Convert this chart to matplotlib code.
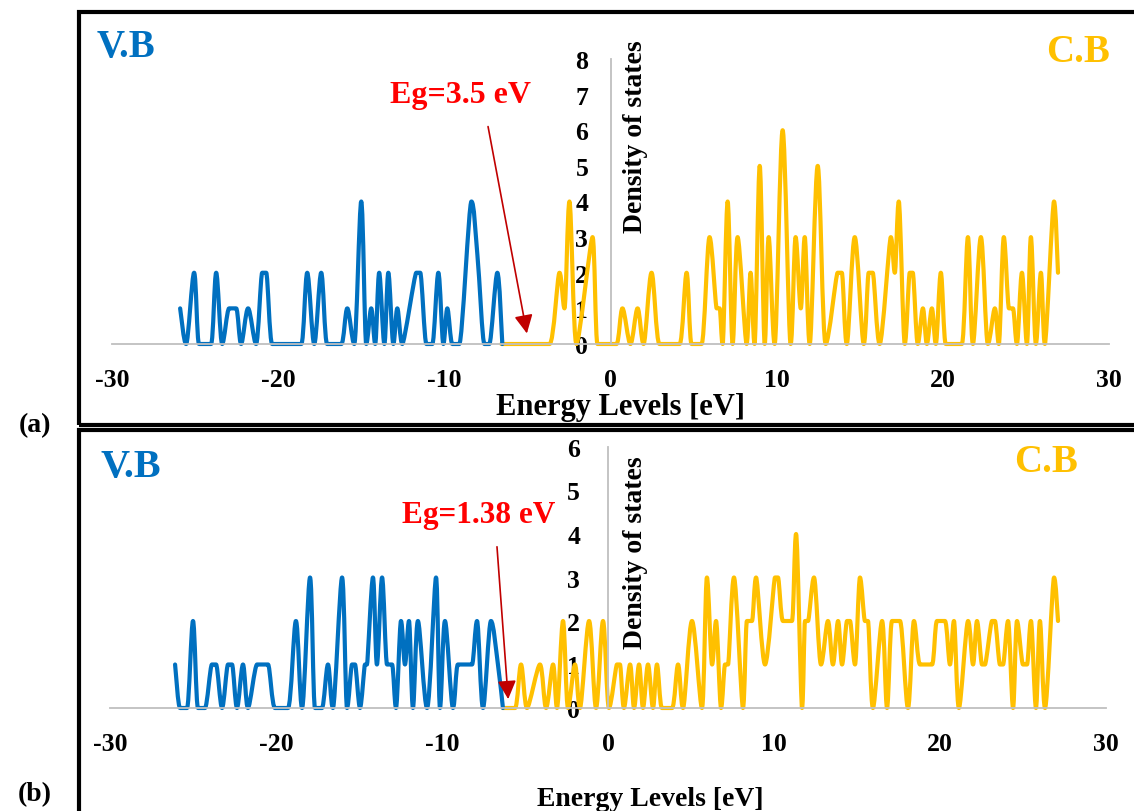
import numpy as np
import matplotlib
matplotlib.use('Agg')
import matplotlib.pyplot as plt
from matplotlib.path import Path
from matplotlib.patches import PathPatch, Rectangle

plt.rcParams['font.family'] = ['Liberation Serif', 'DejaVu Serif']
plt.rcParams['font.weight'] = 'bold'
plt.rcParams['axes.unicode_minus'] = False

# ---------------- data (a) ----------------
a_vb_energy = [-25.9, -25.54, -25.06, -24.76, -24.04, -23.73, -23.37, -22.95, -22.53, -22.23,
               -21.81, -21.33, -20.96, -20.72, -20.36, -18.61, -18.25, -17.83, -17.41, -17.05,
               -16.2, -15.84, -15.42, -15.0, -14.7, -14.4, -14.16, -13.92, -13.61, -13.37,
               -13.07, -12.83, -12.53, -11.69, -11.45, -11.08, -10.72, -10.36, -10.06, -9.82,
               -9.52, -9.1, -8.37, -8.01, -7.59, -7.29, -6.81, -6.51]
a_vb_dos = [1, 0, 2, 0, 0, 2, 0, 1, 1, 0,
            1, 0, 2, 2, 0, 0, 2, 0, 2, 0,
            0, 1, 0, 4, 0, 1, 0, 2, 0, 2,
            0, 1, 0, 2, 2, 0, 0, 2, 0, 1,
            0, 0, 4, 2.5, 0, 0, 2, 0]

a_cb_energy = [-6.57, -3.67, -3.07, -2.77, -2.47, -2.05, -1.08, -0.78, 0.36, 0.72,
               1.2, 1.63, 1.99, 2.47, 2.95, 4.16, 4.58, 4.88, 5.48, 5.96,
               6.39, 6.57, 6.75, 7.05, 7.35, 7.65, 8.19, 8.43, 8.67, 8.98,
               9.28, 9.52, 9.88, 10.36, 10.84, 11.14, 11.45, 11.69, 11.99, 12.47,
               12.95, 13.67, 13.92, 14.22, 14.7, 15.24, 15.54, 15.78, 16.2, 16.87,
               17.11, 17.35, 17.71, 18.01, 18.19, 18.49, 18.8, 19.04, 19.34, 19.58,
               19.88, 20.18, 21.14, 21.51, 21.81, 22.29, 22.71, 23.13, 23.37, 23.67,
               23.98, 24.22, 24.46, 24.76, 25.06, 25.3, 25.6, 25.9, 26.14, 26.69,
               26.93]
a_cb_dos = [0, 0, 2, 1, 4, 0, 3, 0, 0, 1,
            0, 1, 0, 2, 0, 0, 2, 0, 0, 3,
            1, 1, 0, 4, 0, 3, 0, 2, 0, 5,
            0, 3, 0, 6, 0, 3, 1, 3, 0, 5,
            0, 2, 2, 0, 3, 0, 2, 2, 0, 3,
            2, 4, 0, 2, 2, 0, 1, 0, 1, 0,
            2, 0, 0, 3, 0, 3, 0, 1, 0, 3,
            1, 1, 0, 2, 0, 3, 0, 2, 0, 4,
            2]

# ---------------- data (b) ----------------
b_vb_energy = [-26.08, -25.78, -25.36, -25.0, -24.7, -24.28, -23.86, -23.61, -23.25, -22.89,
               -22.65, -22.35, -21.99, -21.69, -21.14, -20.78, -20.48, -20.06, -19.28, -18.8,
               -18.43, -17.95, -17.65, -17.23, -16.87, -16.57, -16.02, -15.72, -15.42, -15.24,
               -14.94, -14.64, -14.52, -14.16, -13.92, -13.61, -13.31, -13.01, -12.77, -12.47,
               -12.23, -11.99, -11.75, -11.45, -10.9, -10.36, -10.12, -9.82, -9.34, -9.04,
               -8.49, -8.19, -7.89, -7.53, -7.05, -6.63, -6.33]
b_vb_dos = [1, 0, 0, 2, 0, 0, 1, 1, 0, 1,
            1, 0, 1, 0, 1, 1, 1, 0, 0, 2,
            0, 3, 0, 0, 1, 0, 3, 0, 1, 1,
            0, 1, 1, 3, 1, 3, 1, 1, 0, 2,
            1, 2, 0, 2, 0, 3, 0, 2, 0, 1,
            1, 1, 2, 0, 2, 1, 0]

b_cb_energy = [-6.33, -5.6, -5.24, -4.88, -4.1, -3.73, -3.31, -3.07, -2.71, -2.41,
               -1.99, -1.69, -1.14, -0.72, -0.3, 0.06, 0.54, 0.72, 0.96, 1.33,
               1.57, 1.87, 2.11, 2.41, 2.71, 2.95, 3.25, 3.86, 4.22, 4.52,
               5.06, 5.66, 5.96, 6.27, 6.51, 6.81, 7.05, 7.23, 7.59, 8.13,
               8.37, 8.67, 8.92, 9.46, 10.06, 10.24, 10.54, 11.08, 11.33, 11.69,
               11.87, 12.05, 12.41, 12.83, 13.25, 13.55, 13.86, 14.1, 14.4, 14.58,
               14.88, 15.18, 15.48, 15.66, 15.96, 16.51, 16.81, 17.11, 17.59, 18.07,
               18.43, 18.8, 19.52, 19.82, 20.3, 20.6, 20.84, 21.14, 21.69, 21.99,
               22.23, 22.53, 22.71, 23.13, 23.31, 23.61, 23.8, 24.1, 24.4, 24.64,
               25.0, 25.24, 25.48, 25.78, 26.02, 26.33, 26.87, 27.11]
b_cb_dos = [0, 0, 1, 0, 1, 0, 1, 0, 2, 0,
            1, 0, 2, 0, 2, 0, 1, 1, 0, 1,
            0, 1, 0, 1, 0, 1, 0, 0, 1, 0,
            2, 0, 3, 1, 2, 0, 1, 1, 3, 0,
            2, 2, 3, 1, 3, 3, 2, 2, 4, 0,
            2, 2, 3, 1, 2, 1, 2, 1, 2, 2,
            1, 3, 2, 2, 0, 2, 0, 2, 2, 0,
            2, 1, 1, 2, 2, 1, 2, 0, 2, 1,
            2, 1, 1, 2, 2, 1, 1, 2, 0, 2,
            1, 1, 2, 0, 2, 0, 3, 2]

x_ticks = [-30, -20, -10, 0, 10, 20, 30]
a_y_ticks = [0, 1, 2, 3, 4, 5, 6, 7, 8]
b_y_ticks = [0, 1, 2, 3, 4, 5, 6]

BLUE = '#0070C0'
GOLD = '#FFC000'
GRID = '#BFBFBF'
W, H = 1134, 812


def smooth_path(x, y):
    """Bezier path through the data points (smoothed-line rendering style)."""
    P = np.column_stack([np.asarray(x, float), np.asarray(y, float)])
    n = len(P)
    T = np.zeros_like(P)
    for i in range(n):
        p0 = P[i - 1] if i > 0 else P[i]
        p2 = P[i + 1] if i < n - 1 else P[i]
        t = (p2 - p0) / 6.0
        if 0 < i < n - 1:
            if (P[i, 1] - p0[1]) * (p2[1] - P[i, 1]) <= 0:
                t[1] = 0.0
            dx_l = P[i, 0] - p0[0]
            dx_r = p2[0] - P[i, 0]
            t[0] = min(t[0], 0.45 * min(dx_l, dx_r))
            if dx_l > 0 and dx_r > 0:
                t[1] *= t[0] / max((p2[0] - p0[0]) / 6.0, 1e-9)
        T[i] = t
    verts = [P[0]]
    codes = [Path.MOVETO]
    for i in range(n - 1):
        verts += [P[i] + T[i], P[i + 1] - T[i + 1], P[i + 1]]
        codes += [Path.CURVE4] * 3
    return Path(verts, codes)


def fx(px):
    return px / W


def fy(py):
    return 1 - py / H


fig = plt.figure(figsize=(W / 100, H / 100), dpi=100)


def make_panel(rect, ymax, yticks, vb_e, vb_d, cb_e, cb_d, ypad):
    ax = fig.add_axes(rect)
    ax.set_xlim(-30, 30)
    ax.set_ylim(0, ymax)
    for s in ['top', 'right']:
        ax.spines[s].set_visible(False)
    ax.spines['left'].set_position(('data', 0))
    ax.spines['left'].set_color(GRID)
    ax.spines['left'].set_linewidth(1.3)
    ax.spines['bottom'].set_color(GRID)
    ax.spines['bottom'].set_linewidth(1.3)
    ax.set_xticks(x_ticks)
    ax.set_yticks(yticks)
    ax.tick_params(axis='x', length=0, labelsize=18.5, pad=17)
    ax.tick_params(axis='y', length=0, labelsize=18.5, pad=ypad)
    ax.patch.set_alpha(0)
    for e, d, c in [(cb_e, cb_d, GOLD), (vb_e, vb_d, BLUE)]:
        ax.add_patch(PathPatch(smooth_path(e, d), facecolor='none', edgecolor=c,
                               lw=3.0, capstyle='round', joinstyle='round',
                               zorder=2, clip_on=False))
    return ax


# frames
fig.add_artist(Rectangle((fx(79), fy(426)), fx(1200) - fx(79), fy(13) - fy(426),
                         transform=fig.transFigure, fill=False, lw=3, ec='black'))
fig.add_artist(Rectangle((fx(79), fy(860)), fx(1200) - fx(79), fy(431) - fy(860),
                         transform=fig.transFigure, fill=False, lw=3, ec='black'))

ax_a = make_panel([fx(112), fy(345), fx(1109) - fx(112), fy(60) - fy(345)], 8, a_y_ticks,
                  a_vb_energy, a_vb_dos, a_cb_energy, a_cb_dos, 16)
ax_b = make_panel([fx(110), fy(709), fx(1106) - fx(110), fy(448) - fy(709)], 6, b_y_ticks,
                  b_vb_energy, b_vb_dos, b_cb_energy, b_cb_dos, 20)

# arrows
ax_a.annotate('', xy=(-5.0, 0.22), xytext=(-7.4, 6.18),
              arrowprops=dict(arrowstyle='-|>', color='#C00000', lw=1.2, mutation_scale=28))
ax_b.annotate('', xy=(-6.0, 0.14), xytext=(-6.7, 3.77),
              arrowprops=dict(arrowstyle='-|>', color='#C00000', lw=1.2, mutation_scale=28))

# texts
fig.text(fx(126), fy(47), 'V.B', color=BLUE, fontsize=28, ha='center', va='center')
fig.text(fx(1078), fy(52), 'C.B', color=GOLD, fontsize=28, ha='center', va='center')
fig.text(fx(460), fy(96), 'Eg=3.5 eV', color='#FF0000', fontsize=23, ha='center', va='center')
fig.text(fx(636), fy(137), 'Density of states', fontsize=20, rotation=90, ha='center', va='center')
fig.text(fx(620), fy(408), 'Energy Levels [eV]', fontsize=22, ha='center', va='center')
fig.text(fx(35), fy(426), '(a)', fontsize=20, ha='center', va='center')

fig.text(fx(131), fy(467), 'V.B', color=BLUE, fontsize=29, ha='center', va='center')
fig.text(fx(1046), fy(463), 'C.B', color=GOLD, fontsize=28, ha='center', va='center')
fig.text(fx(479), fy(516), 'Eg=1.38 eV', color='#FF0000', fontsize=22.5, ha='center', va='center')
fig.text(fx(636), fy(553), 'Density of states', fontsize=20, rotation=90, ha='center', va='center')
fig.text(fx(650), fy(800), 'Energy Levels [eV]', fontsize=20, ha='center', va='center')
fig.text(fx(35), fy(795), '(b)', fontsize=20, ha='center', va='center')

fig.savefig('out.png', dpi=100)
